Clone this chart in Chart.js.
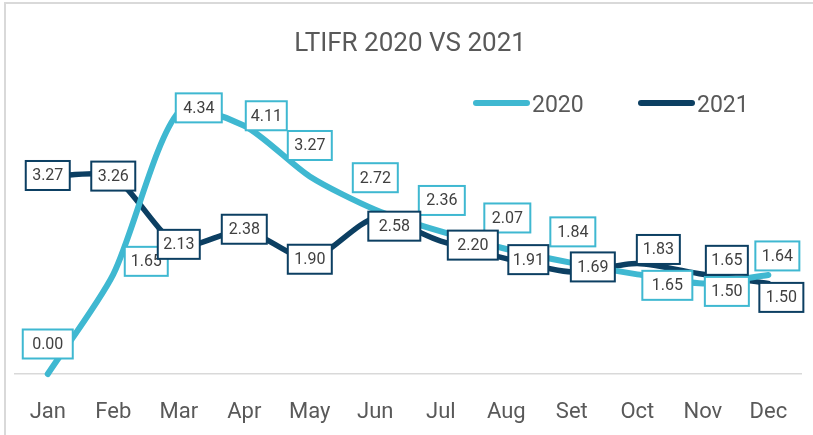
<!DOCTYPE html>
<html lang="en">
<head>
    <meta charset="UTF-8">
    <title>LTIFR 2020 VS 2021</title>
    <script src="https://cdn.jsdelivr.net/npm/chart.js@4"></script>
    <style>
        body {
            margin: 0;
            background-color: #fff;
            font-family: Roboto, sans-serif;
        }
        .frame {
            position: absolute;
            left: 4px;
            top: 2px;
            width: 900px;
            height: 500px;
            border: 2px solid #d9d9d9;
        }
        .chart-box {
            position: absolute;
            left: 0;
            top: 0;
            width: 813px;
            height: 435px;
        }
    </style>
</head>
<body>
    <div class="frame"></div>
    <div class="chart-box">
        <canvas id="ltifrChart" width="813" height="435"></canvas>
    </div>

    <script>
        const months = ['Jan', 'Feb', 'Mar', 'Apr', 'May', 'Jun', 'Jul', 'Aug', 'Set', 'Oct', 'Nov', 'Dec'];
        const ltifr2020 = [0.00, 1.65, 4.34, 4.11, 3.27, 2.72, 2.36, 2.07, 1.84, 1.65, 1.50, 1.64];
        const ltifr2021 = [3.27, 3.26, 2.13, 2.38, 1.90, 2.58, 2.20, 1.91, 1.69, 1.83, 1.65, 1.50];

        const color2020 = '#3fb8d1';
        const color2021 = '#0c3f62';
        const textGrey = '#595959';

        // where each value box sits relative to its point: [dx, dy, box width]
        const labelPos2020 = [[0, -30, 50], [33, -13, 43], [20, -4, 46], [22, -10, 41], [0, -31, 44], [0, -32, 45],
                              [1, -31, 46], [1, -31, 46], [1, -31, 45], [30, 11, 50], [24, 8, 44], [9, -19, 44]];
        const labelPos2021 = [[0, -1, 44], [0, -1, 44], [0, -1, 42], [0, -1, 45], [0, 0, 44], [19, 8, 52],
                              [32, 4, 50], [22, 1, 40], [21, -5, 44], [21, -14, 43], [24, -14, 42], [13, 14, 44]];

        // boxed value labels, 2020 first so 2021 boxes end up on top
        const boxLabels = {
            id: 'boxLabels',
            afterDatasetsDraw(chart) {
                const ctx = chart.ctx;
                const positions = [labelPos2020, labelPos2021];
                ctx.save();
                ctx.font = '16px Roboto';
                ctx.textAlign = 'center';
                ctx.textBaseline = 'middle';
                chart.data.datasets.forEach((ds, i) => {
                    const meta = chart.getDatasetMeta(i);
                    meta.data.forEach((pt, j) => {
                        const [dx, dy, w] = positions[i][j];
                        const cx = pt.x + dx;
                        const cy = pt.y + dy;
                        const h = 29;
                        ctx.fillStyle = '#fff';
                        ctx.fillRect(cx - w / 2, cy - h / 2, w, h);
                        ctx.lineWidth = 2;
                        ctx.strokeStyle = ds.borderColor;
                        ctx.strokeRect(cx - w / 2, cy - h / 2, w, h);
                        ctx.fillStyle = '#404040';
                        ctx.fillText(ds.data[j].toFixed(2), cx, cy + 1);
                    });
                });
                ctx.restore();
            }
        };

        // legend sits inside the plot, right of centre
        const lineLegend = {
            id: 'lineLegend',
            afterDraw(chart) {
                const ctx = chart.ctx;
                const starts = [473, 638];
                ctx.save();
                ctx.font = '23px Roboto';
                ctx.textBaseline = 'alphabetic';
                ctx.lineCap = 'round';
                chart.data.datasets.forEach((ds, i) => {
                    const x = starts[i];
                    ctx.strokeStyle = ds.borderColor;
                    ctx.lineWidth = 6;
                    ctx.beginPath();
                    ctx.moveTo(x + 3, 103);
                    ctx.lineTo(x + 54, 103);
                    ctx.stroke();
                    ctx.fillStyle = textGrey;
                    ctx.fillText(ds.label, x + 59, 112);
                });
                ctx.restore();
            }
        };

        const ctx = document.getElementById('ltifrChart').getContext('2d');
        new Chart(ctx, {
            type: 'line',
            data: {
                labels: months,
                datasets: [
                    {
                        label: '2020',
                        data: ltifr2020,
                        borderColor: color2020,
                        backgroundColor: color2020,
                        borderWidth: 6,
                        tension: 0.25,
                        pointRadius: 0,
                        borderCapStyle: 'round',
                        borderJoinStyle: 'round',
                        clip: false
                    },
                    {
                        label: '2021',
                        data: ltifr2021,
                        borderColor: color2021,
                        backgroundColor: color2021,
                        borderWidth: 5.5,
                        tension: 0.25,
                        pointRadius: 0,
                        borderCapStyle: 'round',
                        borderJoinStyle: 'round',
                        clip: false
                    }
                ]
            },
            options: {
                responsive: false,
                animation: false,
                layout: {
                    // tick padding is counted twice in the axis height, hence the negative bottom
                    padding: { left: 15, right: 8, top: 0, bottom: -16.4 }
                },
                scales: {
                    x: {
                        offset: true,
                        grid: { display: false, drawTicks: false },
                        border: { display: true, color: '#d9d9d9', width: 1.5 },
                        ticks: {
                            padding: 25.5,
                            color: textGrey,
                            font: { family: 'Roboto', size: 22 }
                        }
                    },
                    y: {
                        display: false,
                        min: 0,
                        max: 5
                    }
                },
                plugins: {
                    legend: { display: false },
                    tooltip: { enabled: false },
                    title: {
                        display: true,
                        text: 'LTIFR 2020 VS 2021',
                        color: textGrey,
                        font: { family: 'Roboto', size: 26, weight: 'normal' },
                        padding: { top: 28.5, bottom: 12.3 }
                    }
                }
            },
            plugins: [boxLabels, lineLegend]
        });
    </script>
</body>
</html>
